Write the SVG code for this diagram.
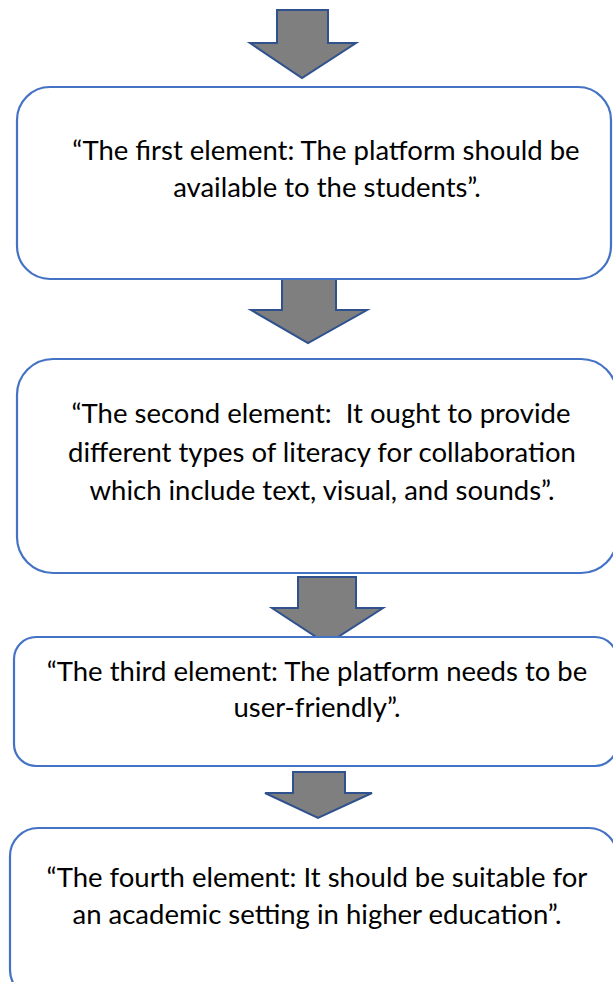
<svg xmlns="http://www.w3.org/2000/svg" width="613" height="982" viewBox="0 0 613 982">
<style>
.arrow{fill:#7f7f7f;stroke:#2f528f;stroke-width:2;stroke-linejoin:miter}
.box{fill:#ffffff;stroke:#4472c4;stroke-width:2.2}
.t{font-family:"Lato","Liberation Sans",sans-serif;font-size:27.5px;fill:#000000;text-anchor:middle}
</style>
<rect width="613" height="982" fill="#ffffff"/>
<g id="connectors">
<polygon class="arrow" points="277,10 328,10 328,43 356,43 302,78 250,43 277,43"/>
<polygon class="arrow" points="282,277 336,277 336,310 367,310 308,343 251,310 282,310"/>
<polygon class="arrow" points="298,577 356,577 356,608 383,608 327,644 272,608 298,608"/>
<polygon class="arrow" points="293,772 345,772 345,793 372,793 318,818 265,793 293,793"/>
</g>
<g id="node1">
<rect class="box" x="17" y="87" width="594" height="192" rx="33" ry="33"/>
<text class="t" x="326" y="160">“The first element: The platform should be</text>
<text class="t" x="327" y="197">available to the students”.</text>
</g>
<g id="node2">
<rect class="box" x="17" y="359" width="600" height="214" rx="36" ry="36"/>
<text class="t" x="321" y="423">“The second element:&#160; It ought to provide</text>
<text class="t" x="322" y="462">different types of literacy for collaboration</text>
<text class="t" x="322" y="500">which include text, visual, and sounds”.</text>
</g>
<g id="node3">
<rect class="box" x="14" y="637" width="603" height="129" rx="22" ry="22"/>
<text class="t" x="317" y="681">“The third element: The platform needs to be</text>
<text class="t" x="317" y="717">user-friendly”.</text>
</g>
<g id="node4">
<rect class="box" x="10" y="828" width="607" height="170" rx="28" ry="28"/>
<text class="t" x="317" y="887">“The fourth element: It should be suitable for</text>
<text class="t" x="317" y="924">an academic setting in higher education”.</text>
</g>
</svg>
